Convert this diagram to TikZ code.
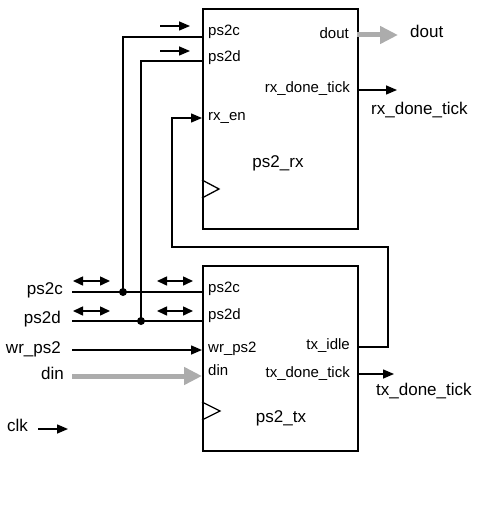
\documentclass[tikz,border=0pt]{standalone}
\usepackage{fontspec}
\setmainfont{Liberation Sans}
\usetikzlibrary{arrows.meta}
\definecolor{busgray}{RGB}{172,172,172}
\begin{document}
\begin{tikzpicture}[x=1pt,y=-1pt,
  blk/.style={draw,line width=1.7pt,inner sep=0pt,anchor=north west,
    minimum width=155pt},
  wire/.style={line width=1.5pt},
  sig/.style={wire,-{Triangle[length=11pt,width=9pt]}},
  bidir/.style={wire,{Triangle[length=10pt,width=9pt]}-{Triangle[length=10pt,width=9pt]}},
  bus/.style={line width=5pt,draw=busgray,
    -{Triangle[length=18pt,width=17pt,fill=busgray]}},
  port/.style={inner sep=0pt,font=\fontsize{15}{18}\selectfont},
  ext/.style={inner sep=0pt,font=\fontsize{17}{20}\selectfont},
  dot/.style={circle,fill,inner sep=0pt,minimum size=8pt},
  clktri/.style={line width=1.3pt}
]
\useasboundingbox (0,0) rectangle (492,513);

% the two blocks
\node[blk,minimum height=220pt] (rx) at (202,8) {};
\node[blk,minimum height=185pt] (tx) at (202,265) {};

% clock inputs
\draw[clktri] (202,180) -- (219,189) -- (202,198);
\draw[clktri] (202,402) -- (220,411) -- (202,420);

% port points on the block edges
\coordinate (rxC)    at (202,37);
\coordinate (rxD)    at (202,61);
\coordinate (rxEN)   at (202,118);
\coordinate (rxDout) at (357,35);
\coordinate (rxDone) at (357,90);
\coordinate (txC)    at (202,292);
\coordinate (txD)    at (202,321);
\coordinate (txWr)   at (202,350);
\coordinate (txDin)  at (202,376);
\coordinate (txIdle) at (357,347);
\coordinate (txDone) at (357,374);

% free ends of the external signals
\coordinate (inC)   at (72,292);
\coordinate (inD)   at (72,321);
\coordinate (inWr)  at (72,350);
\coordinate (inDin) at (72,376);
\coordinate (clkA)  at (38,429);
\coordinate (clkB)  at (68,429);
\coordinate (outDout)   at (398,35);
\coordinate (outRxDone) at (397,90);
\coordinate (outTxDone) at (394,374);

% bends of the rx_en feedback path
\coordinate (fbA) at (388,347);
\coordinate (fbB) at (388,247);
\coordinate (fbC) at (172,247);
\coordinate (fbD) at (172,118);

% junctions of the shared ps2 lines
\node[dot] (jC) at (123,292) {};
\node[dot] (jD) at (141,321) {};

% wires
\draw[wire] (inC) -- (txC);
\draw[wire] (inD) -- (txD);
\draw[wire] (jC.center) |- (rxC);
\draw[wire] (jD.center) |- (rxD);
\draw[sig] (inWr) -- (txWr);
\draw[bus] (inDin) -- (txDin);
\draw[sig] (clkA) -- (clkB);
\draw[bus] (rxDout) -- (outDout);
\draw[sig] (rxDone) -- (outRxDone);
\draw[sig] (txDone) -- (outTxDone);
\draw[sig] (txIdle) -- (fbA) -- (fbB) -- (fbC) -- (fbD) -- (rxEN);

% direction marks
\draw[sig] (160,26) -- (190,26);
\draw[sig] (160,51) -- (190,51);
\draw[bidir] (73,281) -- (110,281);
\draw[bidir] (73,311) -- (110,311);
\draw[bidir] (157,281) -- (193,281);
\draw[bidir] (157,311) -- (193,311);

% port names inside ps2_rx
\node[port,anchor=mid west] (lrxC)  at (208,33)  {ps2c};
\node[port,anchor=mid west] (lrxD)  at (208,59)  {ps2d};
\node[port,anchor=mid west] (lrxEN) at (208,118) {rx\_en};
\node[port,anchor=mid east] (lrxDout) at (349,36) {dout};
\node[port,anchor=mid east] (lrxDone) at (350,90) {rx\_done\_tick};
\node[ext] (lrx) at (278,163) {ps2\_rx};

% port names inside ps2_tx
\node[port,anchor=mid west] (ltxC)  at (208,290) {ps2c};
\node[port,anchor=mid west] (ltxD)  at (208,317) {ps2d};
\node[port,anchor=mid west] (ltxWr) at (208,350) {wr\_ps2};
\node[port,anchor=mid west] (ltxDin) at (208,373) {din};
\node[port,anchor=mid east] (ltxIdle) at (350,347) {tx\_idle};
\node[port,anchor=mid east] (ltxDone) at (350,375) {tx\_done\_tick};
\node[ext] (ltx) at (281,418) {ps2\_tx};

% external signal names
\node[ext,anchor=mid east] (nC)   at (63,292) {ps2c};
\node[ext,anchor=mid east] (nD)   at (61,321) {ps2d};
\node[ext,anchor=mid east] (nWr)  at (61,351) {wr\_ps2};
\node[ext,anchor=mid east] (nDin) at (64,377) {din};
\node[ext,anchor=mid west] (nClk) at (7,429)  {clk};
\node[ext,anchor=mid west] (nDout)   at (410,35)  {dout};
\node[ext,anchor=mid west] (nRxDone) at (371,112) {rx\_done\_tick};
\node[ext,anchor=mid west] (nTxDone) at (376,393) {tx\_done\_tick};
\end{tikzpicture}
\end{document}
